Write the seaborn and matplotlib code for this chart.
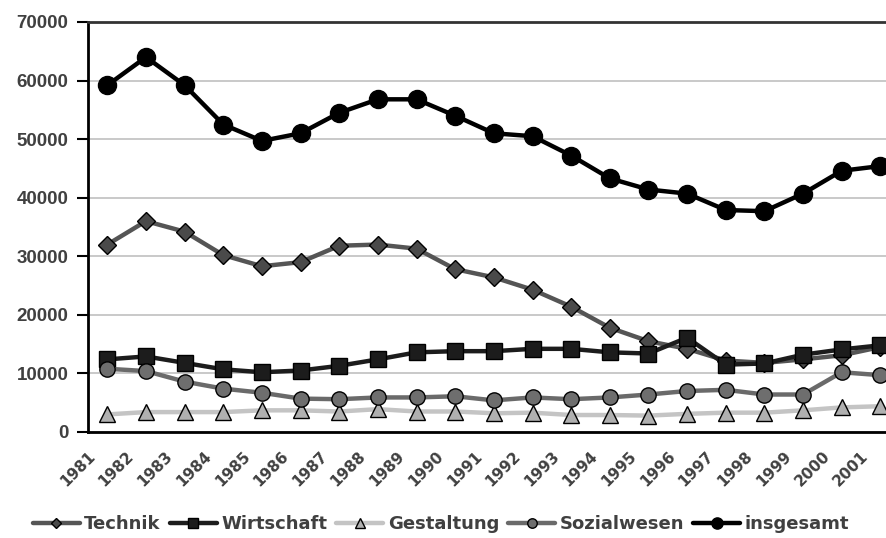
import matplotlib
matplotlib.use("Agg")
import matplotlib.pyplot as plt
import matplotlib.transforms as mtransforms
import seaborn as sns
import numpy as np

# Data
years = [str(y) for y in range(1981, 2002)]
technik = [32000, 36000, 34200, 30200, 28300, 29000, 31800, 32000, 31300, 27800, 26400,
           24300, 21400, 17800, 15500, 14200, 12200, 11800, 12400, 13100, 14500]
wirtschaft = [12400, 12900, 11800, 10700, 10200, 10500, 11300, 12400, 13600, 13800, 13800,
              14200, 14200, 13600, 13400, 16100, 11500, 11700, 13200, 14100, 14800]
gestaltung = [3000, 3400, 3400, 3400, 3700, 3700, 3500, 3900, 3500, 3500, 3200,
              3300, 2900, 2900, 2800, 3100, 3300, 3300, 3700, 4200, 4400]
sozialwesen = [10800, 10400, 8600, 7400, 6700, 5700, 5600, 5900, 5900, 6100, 5400,
               5900, 5600, 5900, 6400, 7000, 7200, 6400, 6400, 10200, 9700]
insgesamt = [59200, 64000, 59200, 52500, 49700, 51000, 54500, 56800, 56800, 54000, 51000,
             50500, 47200, 43300, 41400, 40700, 37900, 37700, 40700, 44600, 45400]

series_names = ["Technik", "Wirtschaft", "Gestaltung", "Sozialwesen", "insgesamt"]
series_vals = [technik, wirtschaft, gestaltung, sozialwesen, insgesamt]
line_colors = ["#555555", "#1c1c1c", "#c4c4c4", "#6a6a6a", "#000000"]
face_colors = ["#4a4a4a", "#1c1c1c", "#b0b0b0", "#6e6e6e", "#000000"]
markers = ["D", "s", "^", "o", "o"]
msizes = [9, 11, 12, 11, 13]

sns.set_style("white")
plt.rcParams["font.family"] = ["Liberation Sans", "DejaVu Sans"]

fig = plt.figure(figsize=(8.86, 5.38), dpi=100)
# the plot area runs past the right edge of the image, like the reference
ax = fig.add_axes([88 / 886, 106 / 538, 811.7 / 886, 410 / 538])

x = np.arange(len(years))
for name, vals, lc, fc, mk, ms in zip(series_names, series_vals, line_colors,
                                      face_colors, markers, msizes):
    sns.lineplot(x=x, y=vals, ax=ax, color=lc, lw=3.2, marker=mk, markersize=ms,
                 markerfacecolor=fc, markeredgecolor="black", markeredgewidth=1,
                 label=name, legend=False)

ax.set_xlim(-0.5, 20.5)
ax.set_ylim(0, 70000)
ax.set_yticks(range(0, 70001, 10000))
ax.set_yticklabels([str(v) for v in range(0, 70001, 10000)],
                   fontsize=13.5, fontweight="bold", color="#404040")
ax.yaxis.grid(True, color="#c0c0c0", lw=1.2)
ax.set_axisbelow(True)

ax.set_xticks(x)
ax.set_xticklabels(years, rotation=45, ha="right", fontsize=11,
                   fontweight="bold", color="#404040", family="DejaVu Sans")
ax.set_xticks(np.arange(-0.5, 21, 1), minor=True)
ax.tick_params(axis="x", which="major", length=0, pad=12)
ax.tick_params(axis="x", which="minor", length=6, width=1.5, color="black", direction="out")
ax.tick_params(axis="y", length=8, width=1.5, color="black", direction="out", left=True, pad=6)
offset = mtransforms.ScaledTranslation(-9 / 100, 0, fig.dpi_scale_trans)
for lbl in ax.get_xticklabels():
    lbl.set_transform(lbl.get_transform() + offset)

for side in ["left", "bottom", "top"]:
    ax.spines[side].set_visible(True)
    ax.spines[side].set_color("black")
    ax.spines[side].set_linewidth(2)
ax.spines["top"].set_color("#333333")
ax.spines["right"].set_visible(False)
ax.set_xlabel("")
ax.set_ylabel("")

handles, labels = ax.get_legend_handles_labels()
leg = fig.legend(handles, labels, loc="center", bbox_to_anchor=(441 / 886, 1 - 524 / 538),
                 ncol=5, frameon=False, handlelength=2.6, handletextpad=0.25,
                 columnspacing=0.5, markerscale=0.62,
                 prop={"size": 13, "weight": "bold", "family": "DejaVu Sans"})
for t in leg.get_texts():
    t.set_color("#404040")

plt.savefig("out.png", dpi=100)
